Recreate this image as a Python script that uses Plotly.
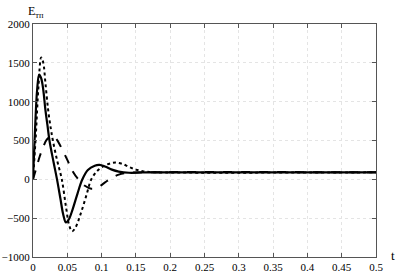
import plotly.graph_objects as go

t_solid = [0, 0.003, 0.006, 0.009, 0.012, 0.015, 0.018, 0.021, 0.024, 0.03, 0.035, 0.04, 0.044, 0.048,
           0.052, 0.058, 0.065, 0.072, 0.08, 0.09, 0.097, 0.105, 0.115, 0.125, 0.14, 0.16, 0.2, 0.5]
y_solid = [0, 650, 1150, 1350, 1300, 1150, 900, 700, 500, 220, 0, -250, -450, -555,
           -520, -380, -180, 0, 120, 175, 185, 165, 125, 100, 85, 88, 90, 90]

t_dot = [0, 0.004, 0.008, 0.012, 0.015, 0.018, 0.022, 0.026, 0.029, 0.035, 0.042, 0.048, 0.053, 0.057,
         0.062, 0.07, 0.078, 0.085, 0.095, 0.105, 0.115, 0.122, 0.13, 0.14, 0.15, 0.16, 0.17, 0.18, 0.5]
y_dot = [0, 550, 1200, 1570, 1500, 1250, 900, 650, 500, 250, 0, -350, -600, -670,
         -620, -430, -200, 0, 120, 180, 210, 215, 200, 160, 125, 105, 95, 90, 90]

t_dash = [0, 0.005, 0.01, 0.015, 0.02, 0.027, 0.033, 0.04, 0.05, 0.058, 0.066, 0.075, 0.085,
          0.095, 0.105, 0.115, 0.125, 0.135, 0.15, 0.5]
y_dash = [0, 150, 300, 420, 510, 555, 530, 430, 250, 100, 0, -80, -120,
          -100, -40, 20, 60, 80, 88, 90]

x_ticks = [0, 0.05, 0.1, 0.15, 0.2, 0.25, 0.3, 0.35, 0.4, 0.45, 0.5]
x_labels = ["0", "0.05", "0.1", "0.15", "0.2", "0.25", "0.3", "0.35", "0.4", "0.45", "0.5"]
y_ticks = [-1000, -500, 0, 500, 1000, 1500, 2000]

fig = go.Figure()
fig.add_trace(go.Scatter(x=t_dash, y=y_dash, mode="lines", line=dict(color="black", width=2, dash="dash", shape="spline")))
fig.add_trace(go.Scatter(x=t_dot, y=y_dot, mode="lines", line=dict(color="black", width=2, dash="dot", shape="spline")))
fig.add_trace(go.Scatter(x=t_solid, y=y_solid, mode="lines", line=dict(color="black", width=2.2, shape="spline")))

axis_common = dict(showline=True, linecolor="#555", linewidth=1, mirror="ticks", ticks="inside", ticklen=4,
                   tickcolor="#555", showgrid=True, gridcolor="#e4e4e4", griddash="dot", gridwidth=1,
                   zeroline=False, automargin=False,
                   tickfont=dict(family="Liberation Serif", size=11, color="black"))
fig.update_xaxes(range=[0, 0.5], tickvals=x_ticks, ticktext=x_labels, **axis_common)
fig.update_yaxes(range=[-1000, 2000], tickvals=y_ticks, **axis_common)

fig.add_annotation(x=0.0, y=1, xref="paper", yref="paper", yanchor="bottom", xanchor="center", xshift=3, yshift=2,
                   text="E<sub>тп</sub>", showarrow=False, font=dict(family="Liberation Serif", size=12, color="black"))
fig.add_annotation(x=1, y=0, xref="paper", yref="paper", xanchor="left", yanchor="middle", xshift=13, yshift=2,
                   text="t", showarrow=False, font=dict(family="Liberation Serif", size=13, color="black"))

fig.update_layout(width=398, height=280, margin=dict(l=33, r=22, t=24, b=23), showlegend=False,
                  plot_bgcolor="white", paper_bgcolor="white")
fig.write_html("out.html")
